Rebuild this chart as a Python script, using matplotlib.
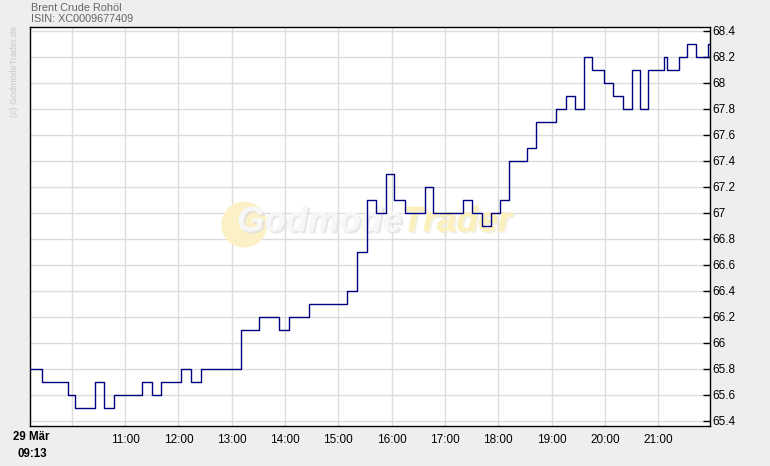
import matplotlib
matplotlib.use("Agg")
import matplotlib.pyplot as plt
from matplotlib.patches import Ellipse
import matplotlib.patheffects as pe

times = ["09:13", "09:26", "09:56", "10:04", "10:26", "10:36", "10:47", "11:19", "11:30", "11:40",
         "12:03", "12:14", "12:25", "13:11", "13:31", "13:53", "14:05", "14:27", "15:10", "15:21",
         "15:32", "15:42", "15:54", "16:03", "16:15", "16:37", "16:47", "17:20", "17:31", "17:42",
         "17:52", "18:02", "18:12", "18:32", "18:42", "19:05", "19:16", "19:26", "19:36", "19:45",
         "19:59", "20:09", "20:20", "20:30", "20:40", "20:49", "21:06", "21:10", "21:23", "21:32",
         "21:42", "21:56", "21:58"]
prices = [65.8, 65.7, 65.6, 65.5, 65.7, 65.5, 65.6, 65.7, 65.6, 65.7,
          65.8, 65.7, 65.8, 66.1, 66.2, 66.1, 66.2, 66.3, 66.4, 66.7,
          67.1, 67.0, 67.3, 67.1, 67.0, 67.2, 67.0, 67.1, 67.0, 66.9,
          67.0, 67.1, 67.4, 67.5, 67.7, 67.8, 67.9, 67.8, 68.2, 68.1,
          68.0, 67.9, 67.8, 68.1, 67.8, 68.1, 68.2, 68.1, 68.2, 68.3,
          68.2, 68.3, 68.3]

yticks = [65.4, 65.6, 65.8, 66.0, 66.2, 66.4, 66.6, 66.8, 67.0, 67.2, 67.4, 67.6, 67.8, 68.0, 68.2, 68.4]
ytick_labels = ["65.4", "65.6", "65.8", "66", "66.2", "66.4", "66.6", "66.8", "67", "67.2",
                "67.4", "67.6", "67.8", "68", "68.2", "68.4"]
xtick_hours = [10, 11, 12, 13, 14, 15, 16, 17, 18, 19, 20, 21]
xtick_labels = ["", "11:00", "12:00", "13:00", "14:00", "15:00", "16:00", "17:00", "18:00",
                "19:00", "20:00", "21:00"]
title1 = "Brent Crude Rohöl"
title2 = "ISIN: XC0009677409"
date_label = "29 Mär"
start_label = "09:13"


def to_h(s):
    h, m = s.split(":")
    return int(h) + int(m) / 60.0


x = [to_h(t) for t in times]

plt.rcParams['font.family'] = ['Liberation Sans', 'DejaVu Sans']

fig = plt.figure(figsize=(7.7, 4.66), dpi=100, facecolor="#eeeeee")
ax = fig.add_axes([30 / 770, 1 - 426 / 466, 680 / 770, 399 / 466])
ax.set_facecolor("white")

# watermark
ax.add_patch(Ellipse((0.315, 0.505), 46 / 680, 46 / 399, transform=ax.transAxes,
                     facecolor="#fcf1c6", edgecolor="none", zorder=0.8))
ax.text(0.547, 0.512, "Godmode", transform=ax.transAxes, ha="right", va="center",
        fontsize=25.5, fontweight="bold", style="italic", color="#f7f7f7", zorder=1,
        path_effects=[pe.withSimplePatchShadow(offset=(1.5, -1.5), shadow_rgbFace="#dedede", alpha=0.7),
                      pe.Normal()])
ax.text(0.547, 0.512, "Trader", transform=ax.transAxes, ha="left", va="center",
        fontsize=25.5, fontweight="bold", style="italic", color="#fcf0bc", zorder=1,
        path_effects=[pe.withSimplePatchShadow(offset=(1.5, -1.5), shadow_rgbFace="#ebe3c6", alpha=0.5),
                      pe.Normal()])

ax.step(x, prices, where="post", color="#000080", linewidth=1.0, zorder=3)

ax.set_xlim(to_h("09:13"), to_h("21:58") + 0.005)
ax.set_ylim(65.36, 68.43)

ax.set_xticks(xtick_hours)
ax.set_xticklabels(xtick_labels)
ax.set_yticks(yticks)
ax.set_yticklabels(ytick_labels)
ax.yaxis.tick_right()
ax.tick_params(axis="y", direction="in", length=5, width=1, pad=2, labelsize=8.5,
               colors="black")
ax.tick_params(axis="x", direction="out", length=0, pad=6, labelsize=8.5, colors="black")
ax.grid(True, color="#dcdcdc", linewidth=1.0, zorder=0)
ax.set_axisbelow(True)
for s in ax.spines.values():
    s.set_color("black")
    s.set_linewidth(1.0)

fig.text(31 / 770, 1 - 8 / 466, title1, fontsize=7.8, color="#666666", va="center", ha="left")
fig.text(31 / 770, 1 - 18.5 / 466, title2, fontsize=7.8, color="#666666", va="center", ha="left")
fig.text(13 / 770, 1 - 437 / 466, date_label, fontsize=8.3, fontweight="bold", va="center", ha="left")
fig.text(17 / 770, 1 - 454 / 466, start_label, fontsize=8.3, fontweight="bold", va="center", ha="left")
fig.text(15 / 770, 1 - 71 / 466, "(c) GodmodeTrader.de", rotation=90, fontsize=6.5,
         color="#c8c8c8", va="center", ha="center")

fig.savefig("out.png", dpi=100, facecolor=fig.get_facecolor())
